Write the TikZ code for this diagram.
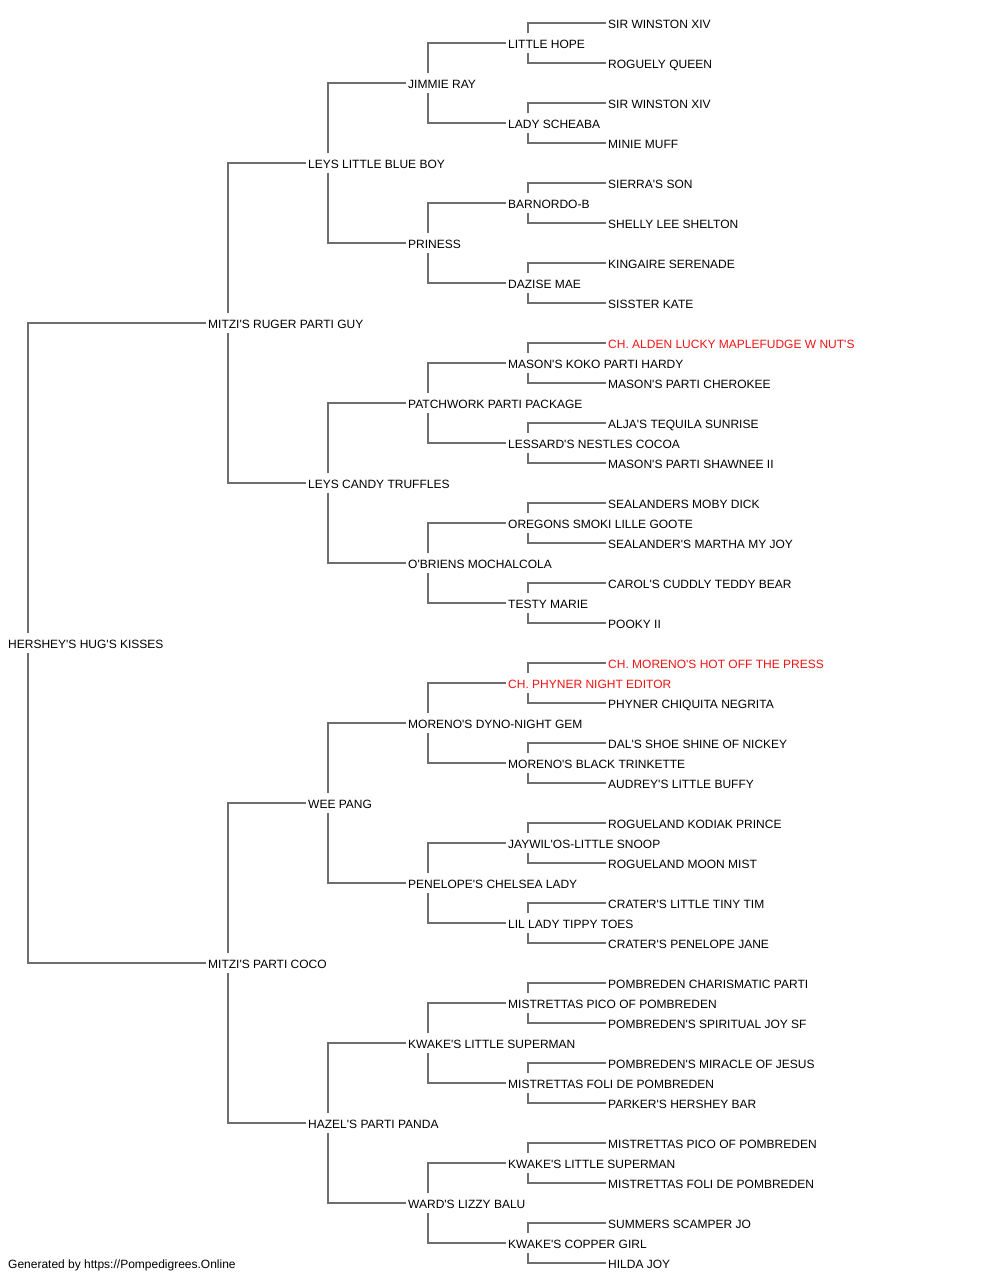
\documentclass[tikz,border=0pt]{standalone}
\usepackage{fontspec}
\setmainfont{Liberation Sans}[Ligatures=TeXOff]
\begin{document}
\begin{tikzpicture}[x=1pt,y=-1pt,
  lbl/.style={anchor=west,inner sep=0pt,text height=10pt,text depth=0pt,font=\fontsize{12}{14}\selectfont},
  champ/.style={lbl,text={rgb,255:red,240;green,20;blue,20}},
  edge/.style={draw={rgb,255:red,110;green,110;blue,110},line width=1.1pt}]
\useasboundingbox (0,0) rectangle (1000,1280);
% generation 0
\node[lbl] (n0) at (8,643) {HERSHEY'S HUG'S KISSES};
% generation 1
\node[lbl] (a0) at (208,323) {MITZI'S RUGER PARTI GUY};
\node[lbl] (a1) at (208,963) {MITZI'S PARTI COCO};
% generation 2
\node[lbl] (b0) at (308,163) {LEYS LITTLE BLUE BOY};
\node[lbl] (b1) at (308,483) {LEYS CANDY TRUFFLES};
\node[lbl] (b2) at (308,803) {WEE PANG};
\node[lbl] (b3) at (308,1123) {HAZEL'S PARTI PANDA};
% generation 3
\node[lbl] (c0) at (408,83) {JIMMIE RAY};
\node[lbl] (c1) at (408,243) {PRINESS};
\node[lbl] (c2) at (408,403) {PATCHWORK PARTI PACKAGE};
\node[lbl] (c3) at (408,563) {O'BRIENS MOCHALCOLA};
\node[lbl] (c4) at (408,723) {MORENO'S DYNO-NIGHT GEM};
\node[lbl] (c5) at (408,883) {PENELOPE'S CHELSEA LADY};
\node[lbl] (c6) at (408,1043) {KWAKE'S LITTLE SUPERMAN};
\node[lbl] (c7) at (408,1203) {WARD'S LIZZY BALU};
% generation 4
\node[lbl] (d0) at (508,43) {LITTLE HOPE};
\node[lbl] (d1) at (508,123) {LADY SCHEABA};
\node[lbl] (d2) at (508,203) {BARNORDO-B};
\node[lbl] (d3) at (508,283) {DAZISE MAE};
\node[lbl] (d4) at (508,363) {MASON'S KOKO PARTI HARDY};
\node[lbl] (d5) at (508,443) {LESSARD'S NESTLES COCOA};
\node[lbl] (d6) at (508,523) {OREGONS SMOKI LILLE GOOTE};
\node[lbl] (d7) at (508,603) {TESTY MARIE};
\node[champ] (d8) at (508,683) {CH. PHYNER NIGHT EDITOR};
\node[lbl] (d9) at (508,763) {MORENO'S BLACK TRINKETTE};
\node[lbl] (d10) at (508,843) {JAYWIL'OS-LITTLE SNOOP};
\node[lbl] (d11) at (508,923) {LIL LADY TIPPY TOES};
\node[lbl] (d12) at (508,1003) {MISTRETTAS PICO OF POMBREDEN};
\node[lbl] (d13) at (508,1083) {MISTRETTAS FOLI DE POMBREDEN};
\node[lbl] (d14) at (508,1163) {KWAKE'S LITTLE SUPERMAN};
\node[lbl] (d15) at (508,1243) {KWAKE'S COPPER GIRL};
% generation 5
\node[lbl] (e0) at (608,23) {SIR WINSTON XIV};
\node[lbl] (e1) at (608,63) {ROGUELY QUEEN};
\node[lbl] (e2) at (608,103) {SIR WINSTON XIV};
\node[lbl] (e3) at (608,143) {MINIE MUFF};
\node[lbl] (e4) at (608,183) {SIERRA'S SON};
\node[lbl] (e5) at (608,223) {SHELLY LEE SHELTON};
\node[lbl] (e6) at (608,263) {KINGAIRE SERENADE};
\node[lbl] (e7) at (608,303) {SISSTER KATE};
\node[champ] (e8) at (608,343) {CH. ALDEN LUCKY MAPLEFUDGE W NUT'S};
\node[lbl] (e9) at (608,383) {MASON'S PARTI CHEROKEE};
\node[lbl] (e10) at (608,423) {ALJA'S TEQUILA SUNRISE};
\node[lbl] (e11) at (608,463) {MASON'S PARTI SHAWNEE II};
\node[lbl] (e12) at (608,503) {SEALANDERS MOBY DICK};
\node[lbl] (e13) at (608,543) {SEALANDER'S MARTHA MY JOY};
\node[lbl] (e14) at (608,583) {CAROL'S CUDDLY TEDDY BEAR};
\node[lbl] (e15) at (608,623) {POOKY II};
\node[champ] (e16) at (608,663) {CH. MORENO'S HOT OFF THE PRESS};
\node[lbl] (e17) at (608,703) {PHYNER CHIQUITA NEGRITA};
\node[lbl] (e18) at (608,743) {DAL'S SHOE SHINE OF NICKEY};
\node[lbl] (e19) at (608,783) {AUDREY'S LITTLE BUFFY};
\node[lbl] (e20) at (608,823) {ROGUELAND KODIAK PRINCE};
\node[lbl] (e21) at (608,863) {ROGUELAND MOON MIST};
\node[lbl] (e22) at (608,903) {CRATER'S LITTLE TINY TIM};
\node[lbl] (e23) at (608,943) {CRATER'S PENELOPE JANE};
\node[lbl] (e24) at (608,983) {POMBREDEN CHARISMATIC PARTI};
\node[lbl] (e25) at (608,1023) {POMBREDEN'S SPIRITUAL JOY SF};
\node[lbl] (e26) at (608,1063) {POMBREDEN'S MIRACLE OF JESUS};
\node[lbl] (e27) at (608,1103) {PARKER'S HERSHEY BAR};
\node[lbl] (e28) at (608,1143) {MISTRETTAS PICO OF POMBREDEN};
\node[lbl] (e29) at (608,1183) {MISTRETTAS FOLI DE POMBREDEN};
\node[lbl] (e30) at (608,1223) {SUMMERS SCAMPER JO};
\node[lbl] (e31) at (608,1263) {HILDA JOY};
% footer
\node[lbl] (foot) at (8,1263) {Generated by https://Pompedigrees.Online};
% connectors
\foreach \i in {0,1} {
  \pgfmathtruncatemacro\s{10-20*mod(\i,2)}
  \draw[edge] ([xshift=20pt,yshift=\s pt]n0.west) |- ([xshift=-2pt]a\i.west);
}
\foreach \i in {0,...,3} {
  \pgfmathtruncatemacro\p{div(\i,2)}
  \pgfmathtruncatemacro\s{10-20*mod(\i,2)}
  \draw[edge] ([xshift=20pt,yshift=\s pt]a\p.west) |- ([xshift=-2pt]b\i.west);
}
\foreach \i in {0,...,7} {
  \pgfmathtruncatemacro\p{div(\i,2)}
  \pgfmathtruncatemacro\s{10-20*mod(\i,2)}
  \draw[edge] ([xshift=20pt,yshift=\s pt]b\p.west) |- ([xshift=-2pt]c\i.west);
}
\foreach \i in {0,...,15} {
  \pgfmathtruncatemacro\p{div(\i,2)}
  \pgfmathtruncatemacro\s{10-20*mod(\i,2)}
  \draw[edge] ([xshift=20pt,yshift=\s pt]c\p.west) |- ([xshift=-2pt]d\i.west);
}
\foreach \i in {0,...,31} {
  \pgfmathtruncatemacro\p{div(\i,2)}
  \pgfmathtruncatemacro\s{10-20*mod(\i,2)}
  \draw[edge] ([xshift=20pt,yshift=\s pt]d\p.west) |- ([xshift=-2pt]e\i.west);
}
\end{tikzpicture}
\end{document}
